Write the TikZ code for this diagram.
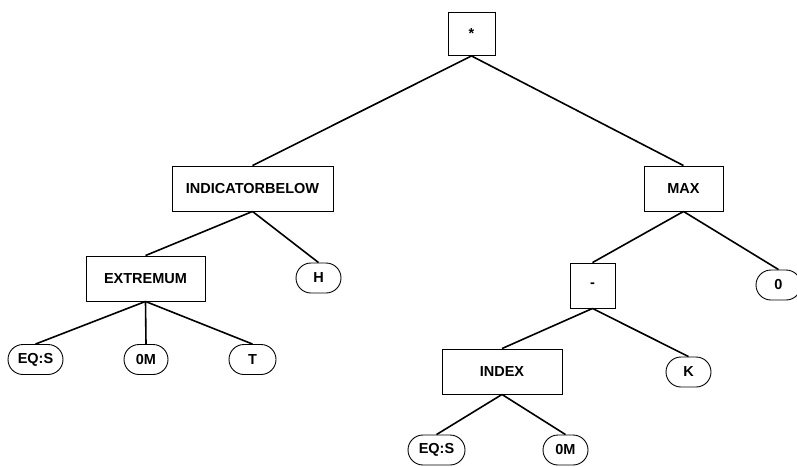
\documentclass[tikz,border=0pt]{standalone}
\usepackage{fontspec}
\setmainfont{Liberation Sans}
\usetikzlibrary{shapes.misc}
\begin{document}
\begin{tikzpicture}[x=1pt,y=-1pt,
  every node/.style={font=\bfseries\fontsize{14.5}{16}\selectfont, inner sep=0pt},
  opbox/.style={draw, line width=0.9pt, minimum height=45pt, fill=white},
  leaf/.style={draw, line width=0.9pt, rounded rectangle, minimum height=30pt, minimum width=45pt, fill=white},
  edge/.style={line width=1.6pt}]
\useasboundingbox (0,0) rectangle (797,466);
% operator boxes
\node[opbox, minimum width=47pt, minimum height=43pt] (root) at (471.5,34) {*};
\node[opbox, minimum width=161pt] (ind) at (252.5,188.5) {INDICATORBELOW};
\node[opbox, minimum width=79pt] (max) at (683.5,188.5) {MAX};
\node[opbox, minimum width=119pt] (ext) at (145.5,278.5) {EXTREMUM};
\node[opbox, minimum width=45pt] (minus) at (592.5,285.5) {-};
\node[opbox, minimum width=120pt] (index) at (502,371.5) {INDEX};
% leaves
\node[leaf] (h) at (318.5,278) {H};
\node[leaf] (zero) at (778.5,285) {0};
\node[leaf, minimum width=55pt] (eqsa) at (35.5,359.5) {EQ:S};
\node[leaf, minimum width=44pt] (oma) at (146,359.5) {0M};
\node[leaf, minimum width=47pt] (t) at (252.5,359.5) {T};
\node[leaf] (k) at (688.5,372) {K};
\node[leaf, minimum width=57pt] (eqsb) at (436.5,450) {EQ:S};
\node[leaf] (omb) at (565.5,450) {0M};
% connectors: parent bottom centre to child top centre
\foreach \p/\c in {root/ind, root/max, ind/ext, ind/h, max/minus, max/zero,
                   ext/eqsa, ext/oma, ext/t, minus/index, minus/k, index/eqsb, index/omb}
  \draw[edge] (\p.south) -- (\c.north);
\end{tikzpicture}
\end{document}
